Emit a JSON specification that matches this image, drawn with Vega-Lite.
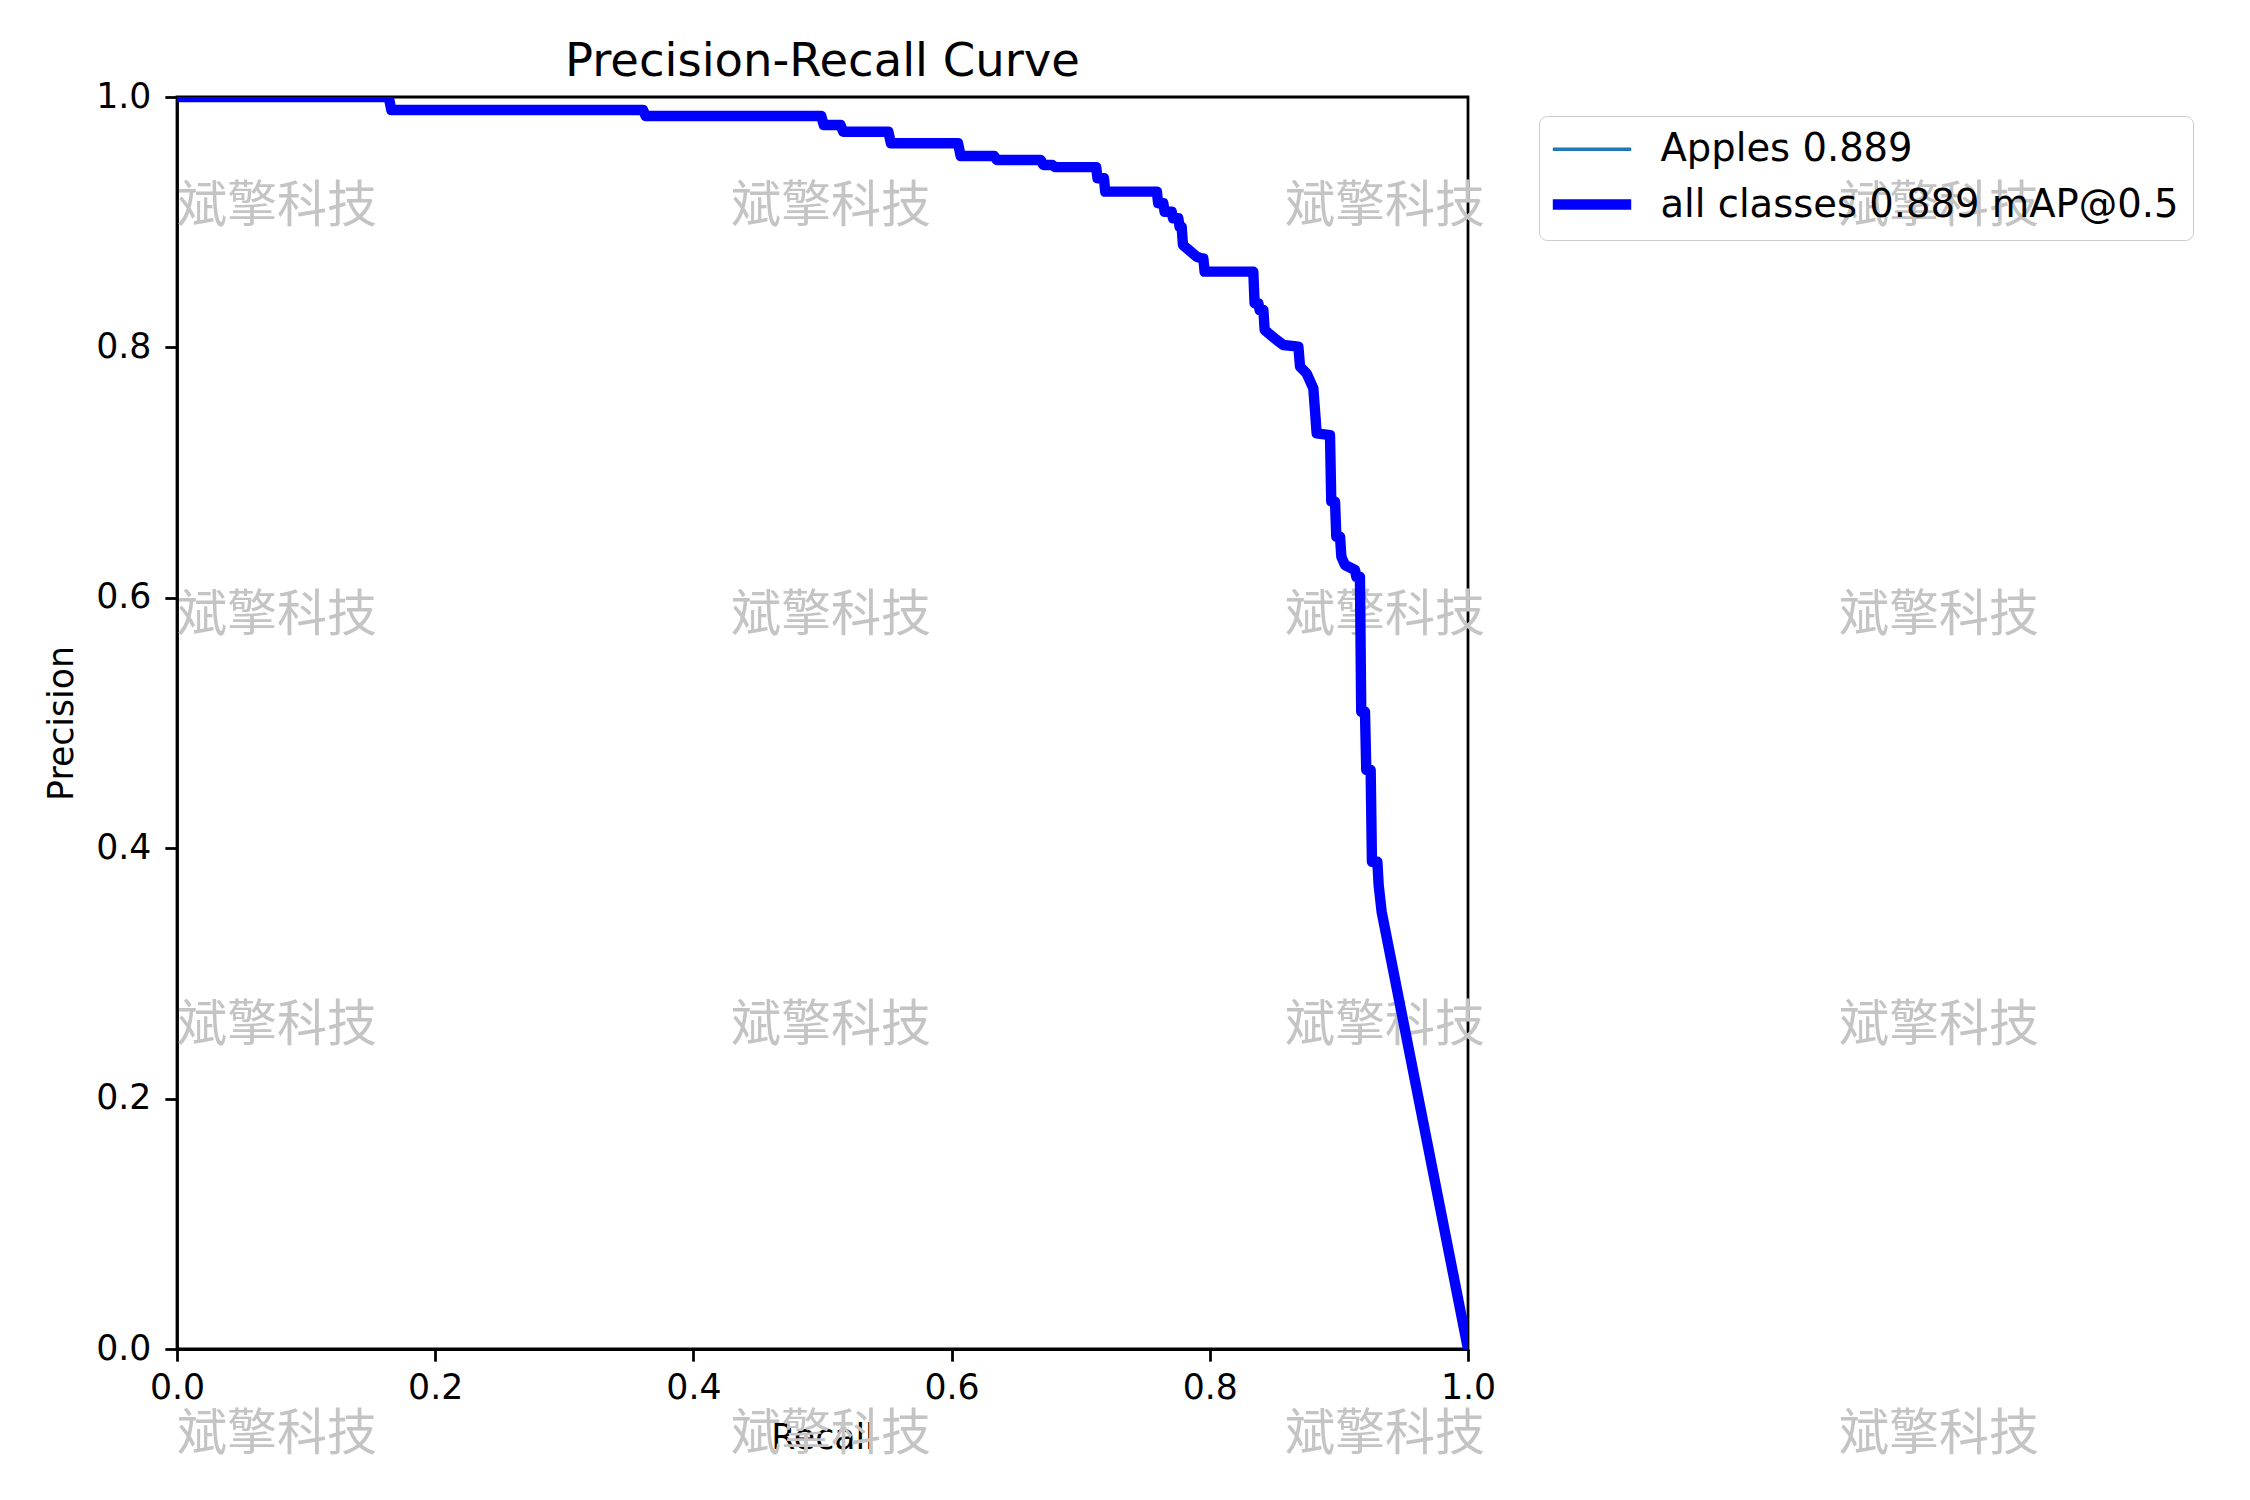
{
  "$schema": "https://vega.github.io/schema/vega-lite/v6.json",
  "background": "white",
  "autosize": {"type": "none"},
  "padding": {"left": 177, "top": 97, "right": 782, "bottom": 151},
  "width": 1291,
  "height": 1252,
  "title": {
    "text": "Precision-Recall Curve",
    "font": "DejaVu Sans",
    "fontSize": 46.5,
    "fontWeight": "normal",
    "color": "black",
    "anchor": "middle",
    "baseline": "alphabetic",
    "offset": 20,
    "dy": 63
  },
  "datasets": {
    "pr": [
      {"recall": 0.0, "precision": 1.0},
      {"recall": 0.164, "precision": 1.0},
      {"recall": 0.166, "precision": 0.9896},
      {"recall": 0.361, "precision": 0.9896},
      {"recall": 0.363, "precision": 0.9848},
      {"recall": 0.499, "precision": 0.9848},
      {"recall": 0.501, "precision": 0.9776},
      {"recall": 0.514, "precision": 0.9776},
      {"recall": 0.516, "precision": 0.9723},
      {"recall": 0.551, "precision": 0.9723},
      {"recall": 0.553, "precision": 0.963},
      {"recall": 0.605, "precision": 0.963},
      {"recall": 0.607, "precision": 0.9529},
      {"recall": 0.633, "precision": 0.9529},
      {"recall": 0.635, "precision": 0.9497},
      {"recall": 0.669, "precision": 0.9497},
      {"recall": 0.671, "precision": 0.9457},
      {"recall": 0.678, "precision": 0.9457},
      {"recall": 0.680, "precision": 0.944},
      {"recall": 0.712, "precision": 0.944},
      {"recall": 0.713, "precision": 0.9351},
      {"recall": 0.718, "precision": 0.9351},
      {"recall": 0.719, "precision": 0.9244},
      {"recall": 0.759, "precision": 0.9244},
      {"recall": 0.760, "precision": 0.9151},
      {"recall": 0.764, "precision": 0.9151},
      {"recall": 0.765, "precision": 0.9084},
      {"recall": 0.7705, "precision": 0.9084},
      {"recall": 0.7715, "precision": 0.9031},
      {"recall": 0.7756, "precision": 0.9031},
      {"recall": 0.7766, "precision": 0.8964},
      {"recall": 0.7782, "precision": 0.8964},
      {"recall": 0.7792, "precision": 0.8818},
      {"recall": 0.7899, "precision": 0.8724},
      {"recall": 0.7937, "precision": 0.8711},
      {"recall": 0.7950, "precision": 0.8711},
      {"recall": 0.7960, "precision": 0.8605},
      {"recall": 0.8337, "precision": 0.8605},
      {"recall": 0.8347, "precision": 0.8352},
      {"recall": 0.8376, "precision": 0.8352},
      {"recall": 0.8386, "precision": 0.8299},
      {"recall": 0.8415, "precision": 0.8299},
      {"recall": 0.8425, "precision": 0.8139},
      {"recall": 0.8518, "precision": 0.8059},
      {"recall": 0.8570, "precision": 0.8019},
      {"recall": 0.8686, "precision": 0.8006},
      {"recall": 0.8699, "precision": 0.7846},
      {"recall": 0.8750, "precision": 0.7793},
      {"recall": 0.8802, "precision": 0.7673},
      {"recall": 0.8828, "precision": 0.7314},
      {"recall": 0.8931, "precision": 0.7300},
      {"recall": 0.8941, "precision": 0.6768},
      {"recall": 0.8970, "precision": 0.6768},
      {"recall": 0.8980, "precision": 0.6488},
      {"recall": 0.9009, "precision": 0.6488},
      {"recall": 0.9019, "precision": 0.6328},
      {"recall": 0.9047, "precision": 0.6262},
      {"recall": 0.9125, "precision": 0.6222},
      {"recall": 0.9135, "precision": 0.6168},
      {"recall": 0.9163, "precision": 0.6168},
      {"recall": 0.9173, "precision": 0.5090},
      {"recall": 0.9202, "precision": 0.5090},
      {"recall": 0.9212, "precision": 0.4625},
      {"recall": 0.9246, "precision": 0.4625},
      {"recall": 0.9256, "precision": 0.3892},
      {"recall": 0.9298, "precision": 0.3892},
      {"recall": 0.9308, "precision": 0.3706},
      {"recall": 0.9331, "precision": 0.3493},
      {"recall": 1.0, "precision": 0.0}
    ],
    "watermark": [
      {"recall": 0.0775, "precision": 0.912, "label": "斌擎科技"},
      {"recall": 0.5066, "precision": 0.912, "label": "斌擎科技"},
      {"recall": 0.9357, "precision": 0.912, "label": "斌擎科技"},
      {"recall": 1.3648, "precision": 0.912, "label": "斌擎科技"},
      {"recall": 0.0775, "precision": 0.5855, "label": "斌擎科技"},
      {"recall": 0.5066, "precision": 0.5855, "label": "斌擎科技"},
      {"recall": 0.9357, "precision": 0.5855, "label": "斌擎科技"},
      {"recall": 1.3648, "precision": 0.5855, "label": "斌擎科技"},
      {"recall": 0.0775, "precision": 0.258, "label": "斌擎科技"},
      {"recall": 0.5066, "precision": 0.258, "label": "斌擎科技"},
      {"recall": 0.9357, "precision": 0.258, "label": "斌擎科技"},
      {"recall": 1.3648, "precision": 0.258, "label": "斌擎科技"},
      {"recall": 0.0775, "precision": -0.0687, "label": "斌擎科技"},
      {"recall": 0.5066, "precision": -0.0687, "label": "斌擎科技"},
      {"recall": 0.9357, "precision": -0.0687, "label": "斌擎科技"},
      {"recall": 1.3648, "precision": -0.0687, "label": "斌擎科技"}
    ]
  },
  "encoding": {
    "x": {
      "field": "recall",
      "type": "quantitative",
      "title": "Recall",
      "scale": {"domain": [0, 1], "nice": false, "zero": false},
      "axis": {
        "values": [0, 0.2, 0.4, 0.6, 0.8, 1.0],
        "format": ".1f",
        "labelPadding": 10,
        "titlePadding": 17
      }
    },
    "y": {
      "field": "precision",
      "type": "quantitative",
      "title": "Precision",
      "scale": {"domain": [0, 1], "nice": false, "zero": false},
      "axis": {
        "values": [0, 0.2, 0.4, 0.6, 0.8, 1.0],
        "format": ".1f",
        "labelPadding": 14,
        "titlePadding": 16
      }
    }
  },
  "layer": [
    {
      "data": {"name": "watermark"},
      "mark": {
        "type": "text",
        "font": "Noto Sans CJK SC",
        "fontSize": 50,
        "color": "#c4c4c4",
        "align": "center",
        "baseline": "middle",
        "clip": false
      },
      "encoding": {"text": {"field": "label", "type": "nominal"}}
    },
    {
      "data": {"name": "pr"},
      "mark": {"type": "line", "clip": true, "strokeJoin": "round", "strokeCap": "square"},
      "encoding": {
        "color": {
          "datum": "Apples 0.889",
          "type": "nominal",
          "scale": {"domain": ["Apples 0.889", "all classes 0.889 mAP@0.5"], "range": ["#1f77b4", "#0000ff"]},
          "legend": {"title": null}
        },
        "strokeWidth": {
          "datum": "Apples 0.889",
          "type": "ordinal",
          "scale": {"domain": ["Apples 0.889", "all classes 0.889 mAP@0.5"], "range": [3.47, 10.4]},
          "legend": {"title": null}
        }
      }
    },
    {
      "data": {"name": "pr"},
      "mark": {"type": "line", "clip": true, "strokeJoin": "round", "strokeCap": "square"},
      "encoding": {
        "color": {"datum": "all classes 0.889 mAP@0.5", "type": "nominal"},
        "strokeWidth": {"datum": "all classes 0.889 mAP@0.5", "type": "ordinal"}
      }
    }
  ],
  "config": {
    "font": "DejaVu Sans",
    "view": {"stroke": "black", "strokeWidth": 2.78},
    "axis": {
      "grid": false,
      "zindex": 1,
      "domainColor": "black",
      "domainWidth": 2.78,
      "tickColor": "black",
      "tickWidth": 2.78,
      "tickSize": 12.15,
      "labelFont": "DejaVu Sans",
      "labelFontSize": 34.7,
      "labelColor": "black",
      "labelFlush": false,
      "labelOverlap": false,
      "titleFont": "DejaVu Sans",
      "titleFontSize": 34.7,
      "titleFontWeight": "normal",
      "titleColor": "black"
    },
    "legend": {
      "orient": "none",
      "legendX": 1362,
      "legendY": 19,
      "symbolType": "M-2.8,0H2.8",
      "symbolSize": 784,
      "symbolOffset": 19.5,
      "labelFont": "DejaVu Sans",
      "labelFontSize": 38.5,
      "labelColor": "black",
      "labelLimit": 1000,
      "labelOffset": 49,
      "padding": 14,
      "rowPadding": 14,
      "strokeColor": "#cccccc",
      "fillColor": "rgba(255,255,255,0)",
      "cornerRadius": 8
    }
  }
}
